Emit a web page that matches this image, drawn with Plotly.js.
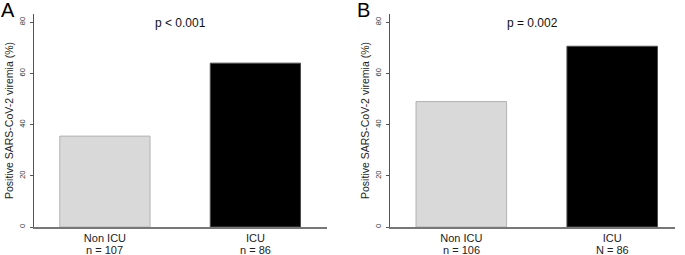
<!DOCTYPE html>
<html>
<head>
<meta charset="utf-8">
<script src="https://cdn.plot.ly/plotly-3.0.1.min.js"></script>
<style>
html,body{margin:0;padding:0;background:#fff;}
#chart{width:685px;height:255px;}
</style>
</head>
<body>
<div id="chart"></div>
<script>
// ---- data ----
const categories = ["Non ICU", "ICU"];
const countLabelsA = ["n = 107", "n = 86"];
const countLabelsB = ["n = 106", "N = 86"];
const valuesA = [35.5, 64.0];
const valuesB = [49.0, 70.6];
const pLabelA = "p < 0.001";
const pLabelB = "p = 0.002";
const panelLabels = ["A", "B"];
const yTickVals = [0, 20, 40, 60, 80];
const yTitle = "Positive SARS-CoV-2 viremia (%)";
const barColors = ["#d9d9d9", "#000000"];
const barLines = ["#b3b3b3", "#4d4d4d"];

const FONT = "'Liberation Sans', Arial, sans-serif";

function bars(vals, xa, ya) {
  return {
    type: "bar", x: categories, y: vals, xaxis: xa, yaxis: ya,
    marker: { color: barColors, line: { color: barLines, width: 1 } },
    hoverinfo: "none", showlegend: false
  };
}

const yDomain = [1 - 227 / 255, 1 - 14 / 255];
function yAxis(anchor) {
  return {
    domain: yDomain, range: [0, 83.2], anchor: anchor,
    tickvals: yTickVals, ticks: "outside", ticklen: 3, tickwidth: 1, tickcolor: "#555",
    tickangle: -90, tickfont: { family: FONT, size: 7.5, color: "#333" },
    ticklabelstandoff: 2,
    showline: true, linecolor: "#555", linewidth: 1.2,
    showgrid: false, zeroline: false, fixedrange: true,
    title: { text: yTitle, font: { family: FONT, size: 10.5, color: "#222" }, standoff: 2 }
  };
}
function xAxis(domain, range, anchor) {
  return {
    domain: domain, range: range, anchor: anchor, type: "category",
    tickvals: categories, ticktext: categories, ticks: "",
    tickfont: { family: FONT, size: 11, color: "#222" },
    showline: true, linecolor: "#777", linewidth: 1.5,
    showgrid: false, zeroline: false, fixedrange: true
  };
}

const annotations = [];
categories.forEach((c, i) => {
  annotations.push({ xref: "x", yref: "paper", x: c, y: 1 - 249.5 / 255, text: countLabelsA[i],
    showarrow: false, yanchor: "middle", font: { family: FONT, size: 11, color: "#222" } });
  annotations.push({ xref: "x2", yref: "paper", x: c, y: 1 - 249.5 / 255, text: countLabelsB[i],
    showarrow: false, yanchor: "middle", font: { family: FONT, size: 11, color: "#222" } });
});
annotations.push({ xref: "x domain", yref: "paper", x: 0.5, y: 1 - 23 / 255, text: pLabelA,
  showarrow: false, yanchor: "middle", font: { family: FONT, size: 12, color: "#111" } });
annotations.push({ xref: "x2 domain", yref: "paper", x: 0.5, y: 1 - 23 / 255, text: pLabelB,
  showarrow: false, yanchor: "middle", font: { family: FONT, size: 12, color: "#111" } });
annotations.push({ xref: "paper", yref: "paper", x: -1 / 685, y: 1 - 10 / 255, text: panelLabels[0],
  showarrow: false, xanchor: "left", yanchor: "middle", font: { family: FONT, size: 20, color: "#000" } });
annotations.push({ xref: "paper", yref: "paper", x: 355 / 685, y: 1 - 10 / 255, text: panelLabels[1],
  showarrow: false, xanchor: "left", yanchor: "middle", font: { family: FONT, size: 20, color: "#000" } });

const layout = {
  width: 685, height: 255,
  margin: { l: 0, r: 0, t: 0, b: 0, pad: 0 },
  paper_bgcolor: "#fff", plot_bgcolor: "#fff",
  bargap: 0.4,
  font: { family: FONT },
  xaxis: xAxis([34 / 685, 327 / 685], [-0.4714, 1.476], "y"),
  yaxis: yAxis("x"),
  xaxis2: xAxis([390 / 685, 675 / 685], [-0.4725, 1.416], "y2"),
  yaxis2: yAxis("x2"),
  annotations: annotations
};

Plotly.newPlot("chart", [bars(valuesA, "x", "y"), bars(valuesB, "x2", "y2")], layout,
  { displayModeBar: false, staticPlot: true });
</script>
</body>
</html>
